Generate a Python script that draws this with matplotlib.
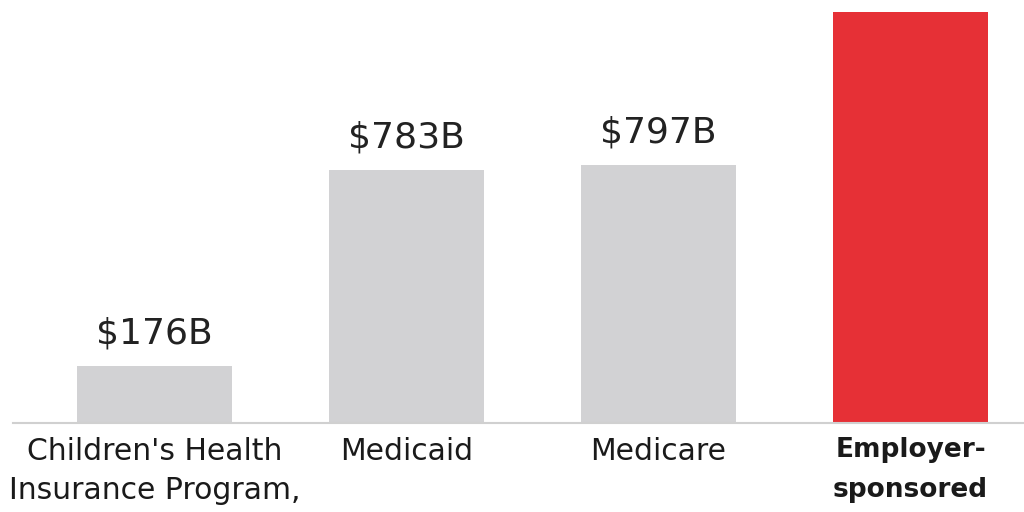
import matplotlib.pyplot as plt

categories = ["Children's Health\nInsurance Program,", "Medicaid", "Medicare",
              "Employer-\nsponsored"]
spending = [176, 783, 797, 1271]
value_labels = ["$176B", "$783B", "$797B", "$1,271B"]
bar_colors = ["#d2d2d4", "#d2d2d4", "#d2d2d4", "#e63036"]

plt.rcParams['font.family'] = ['DejaVu Sans']

fig = plt.figure(figsize=(10.24, 5.12), dpi=100)
ax = fig.add_axes([13 / 1024, 89 / 512, 1 - 13 / 1024, 1 - 89 / 512])

x = range(len(categories))
bars = ax.bar(x, spending, width=0.615, color=bar_colors, zorder=2)

# the top label runs off the canvas, as in the source image
for bar, lab in zip(bars, value_labels):
    ax.annotate(lab, (bar.get_x() + bar.get_width() / 2, bar.get_height()),
                xytext=(0, 11), textcoords='offset points', ha='center',
                va='bottom', fontsize=26, color='#222222',
                annotation_clip=False)

ax.set_xlim(-0.5615, 3.45)
ax.set_ylim(0, 1308)

ax.set_xticks(list(x))
ax.set_xticklabels(categories, fontsize=21.5, color='#1a1a1a', linespacing=1.45,
                   va='top')
last = ax.get_xticklabels()[-1]
last.set_fontweight('bold')
last.set_fontsize(19)
last.set_linespacing(1.7)
ax.tick_params(axis='x', length=0, pad=10)
ax.set_yticks([])

for side in ['top', 'right', 'left']:
    ax.spines[side].set_visible(False)
ax.spines['bottom'].set_color('#d0d0d0')
ax.spines['bottom'].set_linewidth(1.5)

fig.savefig('out.png', dpi=100)
